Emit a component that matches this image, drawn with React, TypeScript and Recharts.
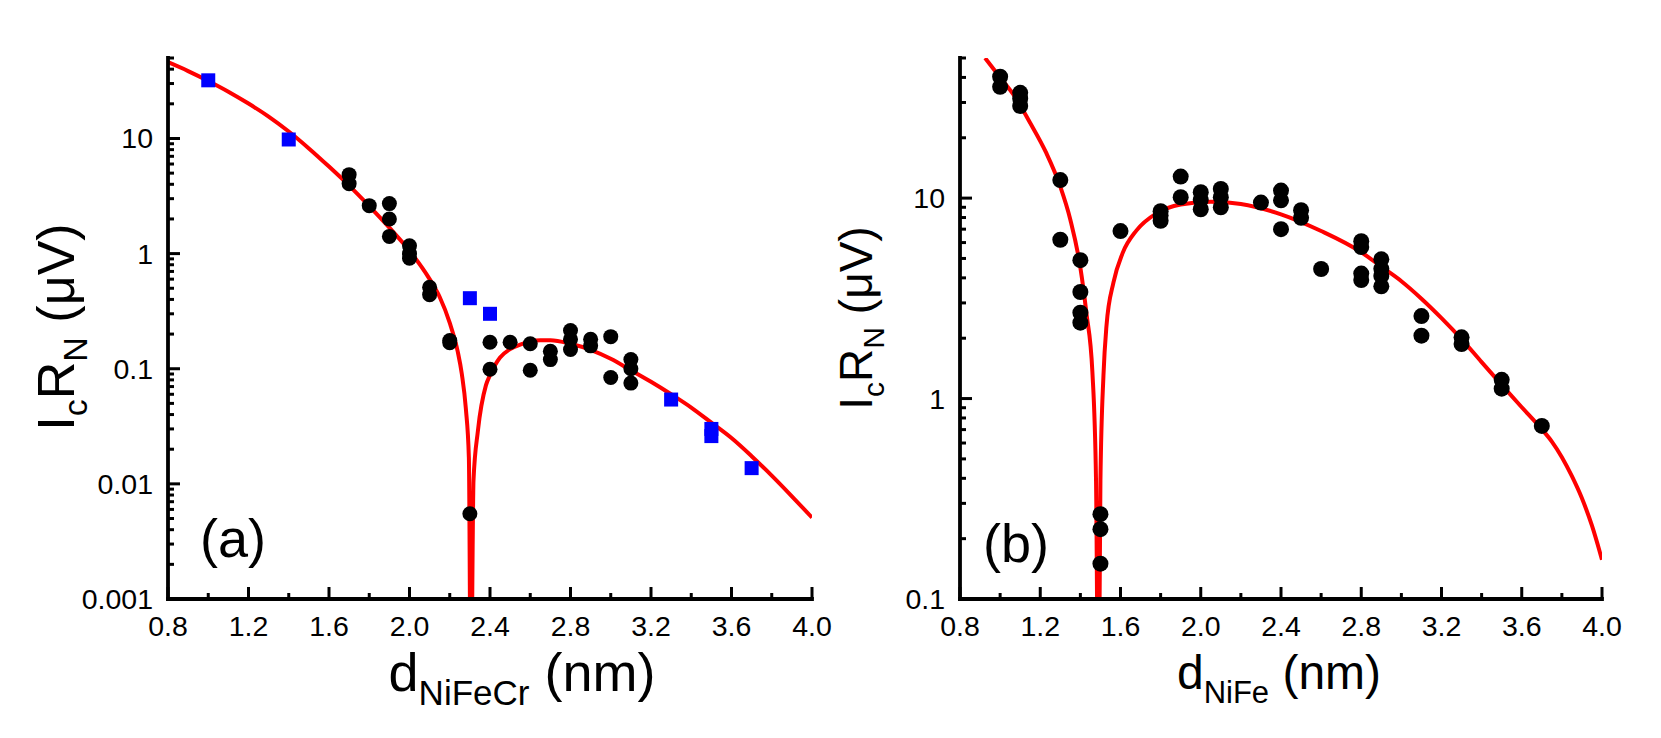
import React from 'react';
import { ComposedChart, Line, Scatter, XAxis, YAxis } from 'recharts';

const FONT = '"Liberation Sans", Arial, Helvetica, sans-serif';

// ---------- axes ----------
const xTicks = [0.8, 1.0, 1.2, 1.4, 1.6, 1.8, 2.0, 2.2, 2.4, 2.6, 2.8, 3.0, 3.2, 3.4, 3.6, 3.8, 4.0];
const xMajor = [0.8, 1.2, 1.6, 2.0, 2.4, 2.8, 3.2, 3.6, 4.0];
const xDomain = [0.8, 4.0];

const yMajorA = [0.001, 0.01, 0.1, 1, 10];
const yDomainA = [0.001, 50];
const yMajorB = [0.1, 1, 10];
const yDomainB = [0.1, 50];
const minorMult = [1, 2, 3, 4, 5, 6, 7, 8, 9];

const logTicks = (majors: number[], top: number) =>
  majors.flatMap((m) => minorMult.map((k) => +(m * k).toPrecision(6))).filter((v) => v <= top);

const yTicksA = logTicks(yMajorA, 50);
const yTicksB = logTicks(yMajorB, 50);

// ---------- panel (a) data: NiFeCr ----------
const aCircles = [
  { x: 1.7, y: 4.85 }, { x: 1.7, y: 4.05 },
  { x: 1.8, y: 2.61 },
  { x: 1.9, y: 2.72 }, { x: 1.9, y: 2.0 }, { x: 1.9, y: 1.41 },
  { x: 2.0, y: 1.17 }, { x: 2.0, y: 1.0 }, { x: 2.0, y: 0.91 },
  { x: 2.1, y: 0.51 }, { x: 2.1, y: 0.44 },
  { x: 2.2, y: 0.176 }, { x: 2.2, y: 0.168 },
  { x: 2.3, y: 0.0055 },
  { x: 2.4, y: 0.17 }, { x: 2.4, y: 0.099 },
  { x: 2.5, y: 0.17 },
  { x: 2.6, y: 0.165 }, { x: 2.6, y: 0.097 },
  { x: 2.7, y: 0.142 }, { x: 2.7, y: 0.12 },
  { x: 2.8, y: 0.215 }, { x: 2.8, y: 0.18 }, { x: 2.8, y: 0.147 },
  { x: 2.9, y: 0.18 }, { x: 2.9, y: 0.158 },
  { x: 3.0, y: 0.19 }, { x: 3.0, y: 0.084 },
  { x: 3.1, y: 0.12 }, { x: 3.1, y: 0.1 }, { x: 3.1, y: 0.075 },
];

const aSquares = [
  { x: 1.0, y: 32 }, { x: 1.4, y: 9.8 }, { x: 2.3, y: 0.41 }, { x: 2.4, y: 0.3 },
  { x: 3.3, y: 0.054 }, { x: 3.5, y: 0.03 }, { x: 3.5, y: 0.026 }, { x: 3.7, y: 0.0137 },
];

const aCurve = [
  { x: 0.8, y: 46 }, { x: 0.9, y: 38.5 }, { x: 1.0, y: 31.6 }, { x: 1.1, y: 25.5 },
  { x: 1.2, y: 20.1 }, { x: 1.3, y: 15.5 }, { x: 1.4, y: 11.5 }, { x: 1.5, y: 8.2 },
  { x: 1.6, y: 5.7 }, { x: 1.7, y: 3.9 }, { x: 1.8, y: 2.59 }, { x: 1.9, y: 1.68 },
  { x: 2.0, y: 1.06 }, { x: 2.1, y: 0.6 }, { x: 2.15, y: 0.42 }, { x: 2.2, y: 0.25 },
  { x: 2.24, y: 0.14 }, { x: 2.26, y: 0.09 }, { x: 2.28, y: 0.045 }, { x: 2.295, y: 0.017 },
  { x: 2.305, y: 0.0001 },
  { x: 2.318, y: 0.0107 }, { x: 2.34, y: 0.029 }, { x: 2.38, y: 0.072 }, { x: 2.4, y: 0.088 },
  { x: 2.45, y: 0.125 }, { x: 2.5, y: 0.148 }, { x: 2.55, y: 0.162 }, { x: 2.6, y: 0.172 },
  { x: 2.65, y: 0.177 }, { x: 2.7, y: 0.177 }, { x: 2.8, y: 0.165 }, { x: 2.9, y: 0.146 },
  { x: 3.0, y: 0.122 }, { x: 3.1, y: 0.097 }, { x: 3.2, y: 0.077 }, { x: 3.3, y: 0.06 },
  { x: 3.4, y: 0.046 }, { x: 3.5, y: 0.034 }, { x: 3.6, y: 0.025 }, { x: 3.7, y: 0.0174 },
  { x: 3.8, y: 0.0118 }, { x: 3.9, y: 0.0078 }, { x: 4.0, y: 0.0051 },
];

// ---------- panel (b) data: NiFe ----------
const bCircles = [
  { x: 1.0, y: 40.3 }, { x: 1.0, y: 35.9 },
  { x: 1.1, y: 33.5 }, { x: 1.1, y: 31.3 }, { x: 1.1, y: 28.8 },
  { x: 1.3, y: 12.3 }, { x: 1.3, y: 6.2 },
  { x: 1.4, y: 4.9 }, { x: 1.4, y: 3.4 }, { x: 1.4, y: 2.68 }, { x: 1.4, y: 2.39 },
  { x: 1.5, y: 0.265 }, { x: 1.5, y: 0.223 }, { x: 1.5, y: 0.15 },
  { x: 1.6, y: 6.85 },
  { x: 1.8, y: 8.6 }, { x: 1.8, y: 8.2 }, { x: 1.8, y: 7.7 },
  { x: 1.9, y: 12.8 }, { x: 1.9, y: 10.1 },
  { x: 2.0, y: 10.7 }, { x: 2.0, y: 9.8 }, { x: 2.0, y: 8.8 },
  { x: 2.1, y: 11.1 }, { x: 2.1, y: 10.1 }, { x: 2.1, y: 9.0 },
  { x: 2.3, y: 9.5 },
  { x: 2.4, y: 10.9 }, { x: 2.4, y: 9.75 }, { x: 2.4, y: 7.0 },
  { x: 2.5, y: 8.7 }, { x: 2.5, y: 7.97 },
  { x: 2.6, y: 4.43 },
  { x: 2.8, y: 6.1 }, { x: 2.8, y: 5.7 }, { x: 2.8, y: 4.2 }, { x: 2.8, y: 3.9 },
  { x: 2.9, y: 4.95 }, { x: 2.9, y: 4.44 }, { x: 2.9, y: 4.09 }, { x: 2.9, y: 3.63 },
  { x: 3.1, y: 2.58 }, { x: 3.1, y: 2.06 },
  { x: 3.3, y: 2.02 }, { x: 3.3, y: 1.87 },
  { x: 3.5, y: 1.24 }, { x: 3.5, y: 1.12 },
  { x: 3.7, y: 0.73 },
];

const bCurve = [
  { x: 0.925, y: 50 }, { x: 1.0, y: 40 }, { x: 1.065, y: 33 }, { x: 1.15, y: 23.7 },
  { x: 1.23, y: 16.8 }, { x: 1.3, y: 11.4 }, { x: 1.35, y: 7.8 }, { x: 1.4, y: 4.5 },
  { x: 1.43, y: 2.67 }, { x: 1.46, y: 1.35 }, { x: 1.478, y: 0.39 }, { x: 1.49, y: 0.02 },
  { x: 1.5, y: 0.39 }, { x: 1.515, y: 1.3 }, { x: 1.53, y: 2.3 }, { x: 1.565, y: 3.8 },
  { x: 1.61, y: 5.3 }, { x: 1.68, y: 6.9 }, { x: 1.78, y: 8.4 }, { x: 1.9, y: 9.3 },
  { x: 2.05, y: 9.6 }, { x: 2.2, y: 9.35 }, { x: 2.4, y: 8.3 }, { x: 2.6, y: 6.85 },
  { x: 2.8, y: 5.37 }, { x: 2.9, y: 4.55 }, { x: 3.0, y: 3.85 }, { x: 3.1, y: 3.15 },
  { x: 3.2, y: 2.52 }, { x: 3.3, y: 1.98 }, { x: 3.4, y: 1.52 }, { x: 3.5, y: 1.17 },
  { x: 3.6, y: 0.905 }, { x: 3.7, y: 0.703 }, { x: 3.75, y: 0.61 }, { x: 3.8, y: 0.51 },
  { x: 3.85, y: 0.41 }, { x: 3.9, y: 0.318 }, { x: 3.95, y: 0.232 }, { x: 4.0, y: 0.157 },
];

// ---------- styling ----------
const TICK_FONT = 28.5;
const MAJOR_LEN = 12;
const MINOR_LEN = 6;
const AXIS_LINE = { stroke: '#000', strokeWidth: 3.8, strokeLinecap: 'square' as const };

type Side = 'left' | 'right' | 'top' | 'bottom';
const isIn = (arr: number[], v: number) => arr.some((m) => Math.abs(m - v) <= Math.abs(m) * 1e-6);
const fmtX = (v: number) => v.toFixed(1);
const fmtY = (v: number) => String(v);

function makeTick(side: Side, majors: number[], showLabel: boolean, fmt: (v: number) => string) {
  return function Tick(props: any) {
    const { x, y, payload } = props;
    const v = payload.value;
    const major = isIn(majors, v);
    const len = major ? MAJOR_LEN : MINOR_LEN;
    let x2 = x;
    let y2 = y;
    if (side === 'left') x2 = x + len;
    if (side === 'right') x2 = x - len;
    if (side === 'top') y2 = y + len;
    if (side === 'bottom') y2 = y - len;
    let label: React.ReactNode = null;
    if (showLabel && major) {
      if (side === 'left') {
        label = (
          <text x={x - 15} y={y + 10} textAnchor="end" fontSize={TICK_FONT} fontFamily={FONT} fill="#000">
            {fmt(v)}
          </text>
        );
      } else if (side === 'bottom') {
        label = (
          <text x={x} y={y + 37} textAnchor="middle" fontSize={TICK_FONT} fontFamily={FONT} fill="#000">
            {fmt(v)}
          </text>
        );
      }
    }
    return (
      <g>
        <line x1={x} y1={y} x2={x2} y2={y2} stroke="#000" strokeWidth={3} />
        {label}
      </g>
    );
  };
}

const makeCircle = (r: number) => (props: any) => <circle cx={props.cx} cy={props.cy} r={r} fill="#000" />;
const SquareShape = (props: any) => (
  <rect x={props.cx - 7} y={props.cy - 7} width={14} height={14} fill="#0000ff" />
);

function Panel(props: {
  width: number;
  margin: { top: number; right: number; bottom: number; left: number };
  yWidth: number;
  yDomain: number[];
  yTicks: number[];
  yMajor: number[];
  circles: { x: number; y: number }[];
  circleR: number;
  squares?: { x: number; y: number }[];
  curve: { x: number; y: number }[];
}) {
  const { width, margin, yWidth, yDomain, yTicks, yMajor, circles, circleR, squares, curve } = props;
  return (
    <ComposedChart width={width} height={738} margin={margin}>
      <XAxis
        xAxisId="b"
        type="number"
        dataKey="x"
        domain={xDomain}
        ticks={xTicks}
        interval={0}
        height={139}
        tickSize={0}
        tickMargin={0}
        axisLine={AXIS_LINE}
        tickLine={false}
        tick={makeTick('bottom', xMajor, true, fmtX)}
        allowDataOverflow
      />
      <XAxis
        xAxisId="t"
        orientation="top"
        type="number"
        dataKey="x"
        domain={xDomain}
        ticks={xTicks}
        interval={0}
        height={0}
        tickSize={0}
        tickMargin={0}
        axisLine={AXIS_LINE}
        tickLine={false}
        tick={makeTick('top', xMajor, false, fmtX)}
        allowDataOverflow
      />
      <YAxis
        yAxisId="l"
        type="number"
        scale="log"
        domain={yDomain}
        ticks={yTicks}
        interval={0}
        width={yWidth}
        tickSize={0}
        tickMargin={0}
        axisLine={AXIS_LINE}
        tickLine={false}
        tick={makeTick('left', yMajor, true, fmtY)}
        allowDataOverflow
      />
      <YAxis
        yAxisId="r"
        orientation="right"
        type="number"
        scale="log"
        domain={yDomain}
        ticks={yTicks}
        interval={0}
        width={0}
        tickSize={0}
        tickMargin={0}
        axisLine={AXIS_LINE}
        tickLine={false}
        tick={makeTick('right', yMajor, false, fmtY)}
        allowDataOverflow
      />
      <Scatter
        xAxisId="b"
        yAxisId="l"
        data={circles}
        dataKey="y"
        shape={makeCircle(circleR)}
        isAnimationActive={false}
      />
      {squares ? (
        <Scatter
          xAxisId="b"
          yAxisId="l"
          data={squares}
          dataKey="y"
          shape={SquareShape}
          isAnimationActive={false}
        />
      ) : null}
      <Line
        xAxisId="b"
        yAxisId="l"
        data={curve}
        dataKey="y"
        type="monotone"
        stroke="#ff0000"
        strokeWidth={4}
        dot={false}
        activeDot={false}
        isAnimationActive={false}
      />
    </ComposedChart>
  );
}

export default function App() {
  const titleStyle = { fontFamily: FONT, fill: '#000' };
  return (
    <div style={{ position: 'absolute', left: 0, top: 0, width: 1661, height: 738, background: '#fff' }}>
      <div style={{ position: 'absolute', left: 0, top: 0 }}>
        <Panel
          width={880}
          margin={{ top: 58, right: 68, bottom: 0, left: 0 }}
          yWidth={168}
          yDomain={yDomainA}
          yTicks={yTicksA}
          yMajor={yMajorA}
          circles={aCircles}
          circleR={7.5}
          squares={aSquares}
          curve={aCurve}
        />
      </div>
      <div style={{ position: 'absolute', left: 830, top: 0 }}>
        <Panel
          width={831}
          margin={{ top: 58, right: 59, bottom: 0, left: 0 }}
          yWidth={130}
          yDomain={yDomainB}
          yTicks={yTicksB}
          yMajor={yMajorB}
          circles={bCircles}
          circleR={8}
          curve={bCurve}
        />
      </div>
      <svg
        width={1661}
        height={738}
        style={{ position: 'absolute', left: 0, top: 0, pointerEvents: 'none' }}
      >
        {/* panel (a) titles */}
        <text x={522} y={691} textAnchor="middle" fontSize={54} {...titleStyle}>
          d<tspan fontSize={35} dy={14}>NiFeCr</tspan>
          <tspan dy={-14}>{' (nm)'}</tspan>
        </text>
        <text
          x={74}
          y={327}
          textAnchor="middle"
          fontSize={52}
          transform="rotate(-90 74 327)"
          {...titleStyle}
        >
          I<tspan fontSize={34} dy={13}>c</tspan>
          <tspan dy={-13}>R</tspan>
          <tspan fontSize={34} dy={13}>N</tspan>
          <tspan dy={-13}>{' (\u03bcV)'}</tspan>
        </text>
        <text x={200} y={557} fontSize={54} {...titleStyle}>
          (a)
        </text>
        {/* panel (b) titles */}
        <text x={1279} y={689} textAnchor="middle" fontSize={48} {...titleStyle}>
          d<tspan fontSize={31} dy={14}>NiFe</tspan>
          <tspan dy={-14}>{' (nm)'}</tspan>
        </text>
        <text
          x={872}
          y={318}
          textAnchor="middle"
          fontSize={46}
          transform="rotate(-90 872 318)"
          {...titleStyle}
        >
          I<tspan fontSize={30} dy={12}>c</tspan>
          <tspan dy={-12}>R</tspan>
          <tspan fontSize={30} dy={12}>N</tspan>
          <tspan dy={-12}>{' (\u03bcV)'}</tspan>
        </text>
        <text x={983} y={562} fontSize={54} {...titleStyle}>
          (b)
        </text>
      </svg>
    </div>
  );
}
